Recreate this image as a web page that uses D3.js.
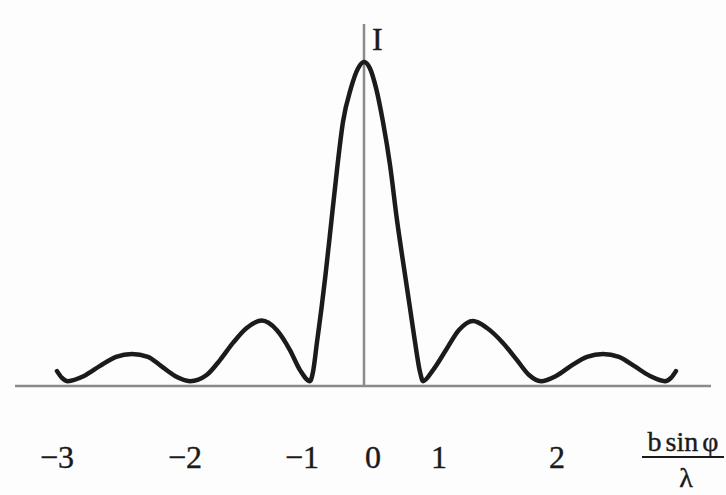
<!DOCTYPE html>
<html>
<meta charset="utf-8">
<head>
<script src="https://cdn.jsdelivr.net/npm/d3@7"></script>
</head>
<style>
body {
    margin: 0;
    background: #fdfdfd;
}
svg text {
    font-family: "Liberation Serif", "Times New Roman", serif;
    fill: #1a1a1a;
    stroke: #1a1a1a;
    stroke-width: 0.4px;
}
.axis-line {
    stroke: #8a8a8a;
    stroke-width: 2.5px;
}
.curve {
    fill: none;
    stroke: #1b1b1b;
    stroke-width: 4.5px;
    stroke-linejoin: round;
    stroke-linecap: round;
}
</style>
<body>
<svg id="canvas"></svg>
<script>
// tick values along b sin(phi) / lambda, and their labels
var tickValues = [-3, -2, -1, 0, 1, 2];
var tickLabels = ["\u22123", "\u22122", "\u22121", "0", "1", "2"];

// intensity curve (x in b sin(phi)/lambda, I relative to the central max)
var curveX = [-3.000, -2.961, -2.914, -2.789, -2.664, -2.539, -2.414, -2.289, -2.188, -2.078,
              -1.957, -1.815, -1.701, -1.590, -1.473, -1.344, -1.216, -1.103, -1.017, -0.871,
              -0.823, -0.758, -0.685, -0.621, -0.524, -0.427, -0.339, -0.210, -0.097, 0.000,
              0.080, 0.160, 0.253, 0.347, 0.440, 0.547, 0.613, 0.680, 0.747, 0.787,
              0.920, 1.059, 1.169, 1.288, 1.407, 1.542, 1.661, 1.763, 1.864, 1.992,
              2.119, 2.254, 2.390, 2.525, 2.653, 2.788, 2.915, 2.966, 3.008];
var curveI = [0.046, 0.025, 0.015, 0.031, 0.062, 0.090, 0.099, 0.090, 0.062, 0.031,
              0.015, 0.034, 0.080, 0.133, 0.179, 0.202, 0.173, 0.111, 0.049, 0.015,
              0.043, 0.136, 0.241, 0.343, 0.512, 0.682, 0.815, 0.920, 0.980, 1.000,
              0.980, 0.920, 0.815, 0.682, 0.512, 0.343, 0.241, 0.136, 0.043, 0.015,
              0.049, 0.111, 0.173, 0.201, 0.179, 0.133, 0.080, 0.034, 0.015, 0.031,
              0.062, 0.090, 0.099, 0.090, 0.062, 0.031, 0.015, 0.025, 0.046];

var width = 726, height = 495;

var svg = d3.select('#canvas')
    .attr('width', width)
    .attr('height', height);

// the drawing is not evenly spaced, so the scale is piecewise linear through the ticks
var x = d3.scaleLinear()
    .domain(tickValues)
    .range([57, 185, 302, 364, 439, 557]);

var y = d3.scaleLinear()
    .domain([0, 1])
    .range([386, 62]);

// axes
svg.append('line').classed('axis-line', true)
    .attr('x1', 15).attr('x2', 711)
    .attr('y1', y(0)).attr('y2', y(0));
svg.append('line').classed('axis-line', true)
    .attr('x1', x(0)).attr('x2', x(0))
    .attr('y1', y(0)).attr('y2', 24);

// the curve
var points = curveX.map(function(d, i) { return [d, curveI[i]]; });
var line = d3.line()
    .x(function(d) { return x(d[0]); })
    .y(function(d) { return y(d[1]); })
    .curve(d3.curveMonotoneX);
svg.append('path').classed('curve', true)
    .attr('d', line(points));

// tick labels (the 0 sits just right of the vertical axis)
svg.selectAll('.tick-label')
    .data(tickValues)
    .enter().append('text')
    .classed('tick-label', true)
    .attr('x', function(d) { return x(d) + (d === 0 ? 9 : 0); })
    .attr('y', 468)
    .attr('text-anchor', 'middle')
    .style('font-size', '32px')
    .text(function(d, i) { return tickLabels[i]; });

// axis titles
svg.append('text')
    .attr('x', 372).attr('y', 50)
    .style('font-size', '32px')
    .text('I');

var frac = svg.append('g').attr('transform', 'translate(683,0)');
frac.append('text')
    .attr('x', 0).attr('y', 451)
    .attr('text-anchor', 'middle')
    .style('font-size', '28px')
    .style('word-spacing', '-3px')
    .text('b sin \u03c6');
frac.append('line')
    .attr('x1', -41).attr('x2', 41)
    .attr('y1', 457).attr('y2', 457)
    .attr('stroke', '#1a1a1a')
    .attr('stroke-width', 2);
frac.append('text')
    .attr('x', 3).attr('y', 487)
    .attr('text-anchor', 'middle')
    .style('font-size', '28px')
    .text('\u03bb');
</script>
</body>
</html>
